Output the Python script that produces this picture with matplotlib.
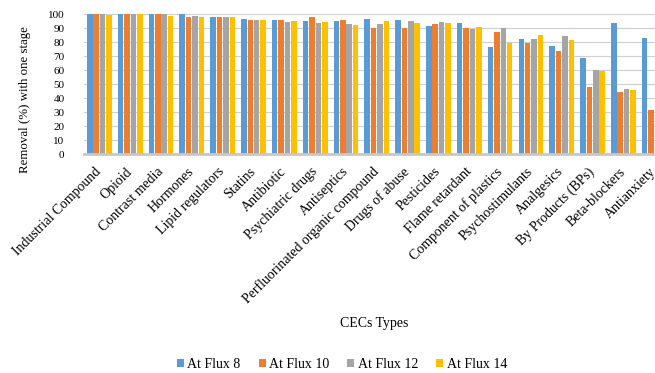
import matplotlib
matplotlib.use("Agg")
import matplotlib.pyplot as plt
import numpy as np

categories = ["Industrial Compound", "Opioid", "Contrast media", "Hormones",
              "Lipid regulators", "Statins", "Antibiotic", "Psychiatric drugs",
              "Antiseptics", "Perfluorinated organic compound", "Drugs of abuse",
              "Pesticides", "Flame retardant", "Component of plastics",
              "Psychostimulants", "Analgesics", "By Products (BPs)",
              "Beta-blockers", "Antianxiety"]
flux8 = [100, 100, 100, 100, 98, 97, 96, 95, 95.3, 96.9, 96.2, 91.9, 93.6, 76.5, 82.5, 77.5, 69, 93.6, 83.4]
flux10 = [100, 100, 100, 98, 98, 96, 96, 98, 96.2, 90, 90, 92.9, 90, 87.7, 79.4, 73.9, 47.9, 44.3, 31.8]
flux12 = [100, 100, 100, 99, 98, 96, 94.5, 94, 92.9, 92.9, 95.3, 94.3, 89.6, 90, 82.5, 84.4, 60.4, 46.9, 62.3]
flux14 = [99.5, 100, 99, 98, 98, 96, 95.3, 94.3, 92.7, 95.3, 93.6, 93.6, 91, 79.4, 85.1, 81.8, 59.7, 46.2, 60]
series_names = ["At Flux 8", "At Flux 10", "At Flux 12", "At Flux 14"]
colors = ["#5B9BD5", "#ED7D31", "#A5A5A5", "#FFC000"]
yticks = list(range(0, 101, 10))

plt.rcParams['font.family'] = ['Liberation Serif', 'DejaVu Serif']

fig = plt.figure(figsize=(6.55, 3.73), dpi=100)
ax = fig.add_axes([84/655, 1-154.5/373, (669.6-84)/655, (154.5-14.3)/373])

x = np.arange(len(categories))
pitch = 0.208
width = 0.18
handles = []
for i, (vals, name, c) in enumerate(zip([flux8, flux10, flux12, flux14], series_names, colors)):
    b = ax.bar(x + (i - 1.5) * pitch, vals, width=width, color=c, label=name, zorder=3)
    handles.append(b)

ax.set_xlim(-0.5, len(categories) - 0.5)
ax.set_ylim(0, 100)
ax.set_yticks(yticks)
ax.set_yticklabels([str(v) for v in yticks], fontsize=8)
ax.tick_params(axis='y', length=0, pad=14)
ax.set_xticks(x)
ax.set_xticklabels(categories, rotation=45, ha='right', va='center',
                   rotation_mode='anchor', fontsize=10)
ax.tick_params(axis='x', length=0, pad=11)
ax.yaxis.grid(True, color='#cfcfcf', linewidth=0.8, zorder=0)
ax.set_axisbelow(True)
for s in ['top', 'right', 'left']:
    ax.spines[s].set_visible(False)
ax.spines['bottom'].set_color('#c8c8c8')
ax.spines['bottom'].set_linewidth(2)
ax.spines['bottom'].set_zorder(4)

fig.text(25/655, 1-99.5/373, "Removal (%) with one stage", rotation=90,
         ha='center', va='center', fontsize=9.3)
fig.text(374.5/655, 1-323/373, "CECs Types", ha='center', va='center', fontsize=10)

fig.legend(handles=handles, labels=series_names, loc='center',
           bbox_to_anchor=(342/655, 1-364/373), ncol=4, frameon=False,
           fontsize=10, handlelength=0.5, handleheight=0.5, handletextpad=0.25,
           columnspacing=1.3)

fig.savefig("out.png", dpi=100)
